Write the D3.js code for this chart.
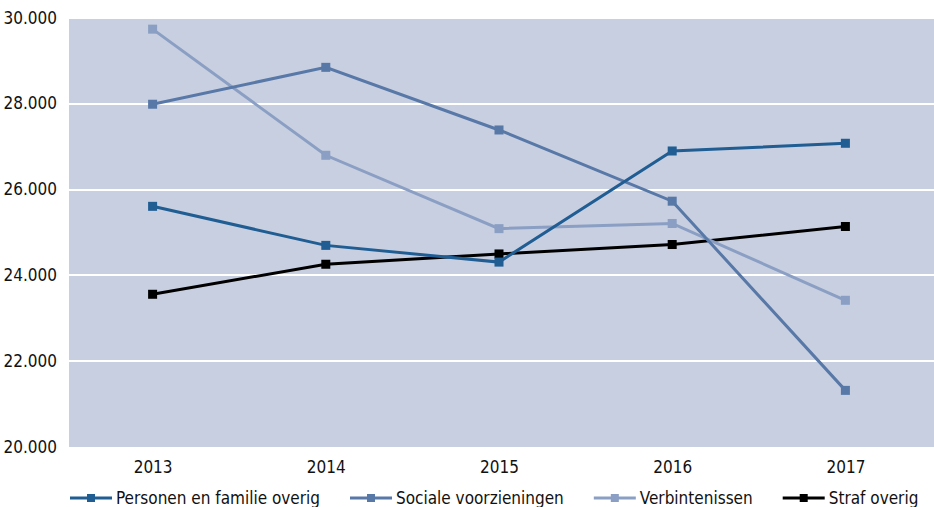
<!DOCTYPE html>
<head>
<meta charset="utf-8">
<style>
body { margin: 0; background: #fff; }
svg { display: block; }
text { font-family: "DejaVu Sans Condensed", "DejaVu Sans", sans-serif; font-size: 17px; fill: #111; }
.grid line { stroke: #fff; stroke-width: 2; shape-rendering: crispEdges; }
.series path { fill: none; stroke-width: 3; }
</style>
</head>
<body>
<script src="https://cdn.jsdelivr.net/npm/d3@7"></script>
<script>

// data
var years = ["2013", "2014", "2015", "2016", "2017"];
var seriesNames = ["Personen en familie overig", "Sociale voorzieningen", "Verbintenissen", "Straf overig"];
var personen = [25610, 24700, 24310, 26900, 27080];
var sociale = [27990, 28850, 27390, 25730, 21320];
var verbintenissen = [29740, 26800, 25090, 25210, 23420];
var straf = [23560, 24260, 24500, 24720, 25140];
var yTicks = [20000, 22000, 24000, 26000, 28000, 30000];
var colors = ["#1f5d93", "#5878a7", "#8a9fc3", "#000000"];

var allValues = [personen, sociale, verbintenissen, straf];

var W = 934, H = 507;
var margin = {top: 18, right: 2, bottom: 60, left: 66},
    width = W - margin.left - margin.right,
    height = H - margin.top - margin.bottom;

var nl = d3.formatLocale({decimal: ",", thousands: ".", grouping: [3], currency: ["€", ""]});
var fmt = nl.format(",.0f");

var x = d3.scalePoint().domain(years).range([0, width]).padding(0.5);
var y = d3.scaleLinear().domain([20000, 30000]).range([height, 0]);

var svg = d3.select("body").append("svg")
    .attr("width", W)
    .attr("height", H);

var g = svg.append("g")
    .attr("transform", "translate(" + margin.left + "," + margin.top + ")");

// plot background
g.append("rect")
    .attr("x", 3)
    .attr("y", 0)
    .attr("width", width - 1)
    .attr("height", height)
    .attr("fill", "#c8cfe1");

// horizontal gridlines
g.append("g")
    .attr("class", "grid")
    .selectAll("line")
    .data(yTicks.slice(1))
    .join("line")
    .attr("x1", 3)
    .attr("x2", width + 2)
    .attr("y1", function(d) { return Math.round(y(d)); })
    .attr("y2", function(d) { return Math.round(y(d)); });

// y axis labels
var yAxis = g.append("g")
    .call(d3.axisLeft(y).tickValues(yTicks).tickFormat(fmt).tickSize(0).tickPadding(9));
yAxis.select(".domain").remove();
yAxis.selectAll("text").attr("font-size", null).attr("font-family", null).attr("fill", null).attr("dy", "0.3em");

// x axis labels
var xAxis = g.append("g")
    .attr("transform", "translate(0," + height + ")")
    .call(d3.axisBottom(x).tickSize(0).tickPadding(14));
xAxis.select(".domain").remove();
xAxis.selectAll("text").attr("font-size", null).attr("font-family", null).attr("fill", null);

var line = d3.line()
    .x(function(d, i) { return x(years[i]); })
    .y(function(d) { return y(d); });

// draw series (last one on top like the reference)
var order = [3, 2, 1, 0];
order.forEach(function(k) {
    var s = g.append("g").attr("class", "series");
    s.append("path")
        .attr("d", line(allValues[k]))
        .attr("stroke", colors[k])
        .attr("stroke-width", k == 3 ? 2.5 : 3);
    s.selectAll("rect")
        .data(allValues[k])
        .join("rect")
        .attr("x", function(d, i) { return x(years[i]) - 4.5; })
        .attr("y", function(d) { return y(d) - 4.5; })
        .attr("width", 9)
        .attr("height", 9)
        .attr("fill", colors[k]);
});

// legend
var legend = svg.append("g").attr("transform", "translate(70," + 498 + ")");
var lx = 0;
seriesNames.forEach(function(name, i) {
    var item = legend.append("g").attr("transform", "translate(" + lx + ",0)");
    item.append("line")
        .attr("x1", 0).attr("x2", 42)
        .attr("y1", 0).attr("y2", 0)
        .attr("stroke", colors[i])
        .attr("stroke-width", 3);
    item.append("rect")
        .attr("x", 17).attr("y", -4)
        .attr("width", 8).attr("height", 8)
        .attr("fill", colors[i]);
    var t = item.append("text")
        .attr("x", 46)
        .attr("dy", "0.35em")
        .text(name);
    lx += 46 + t.node().getComputedTextLength() + 30;
});

</script>
</body>
